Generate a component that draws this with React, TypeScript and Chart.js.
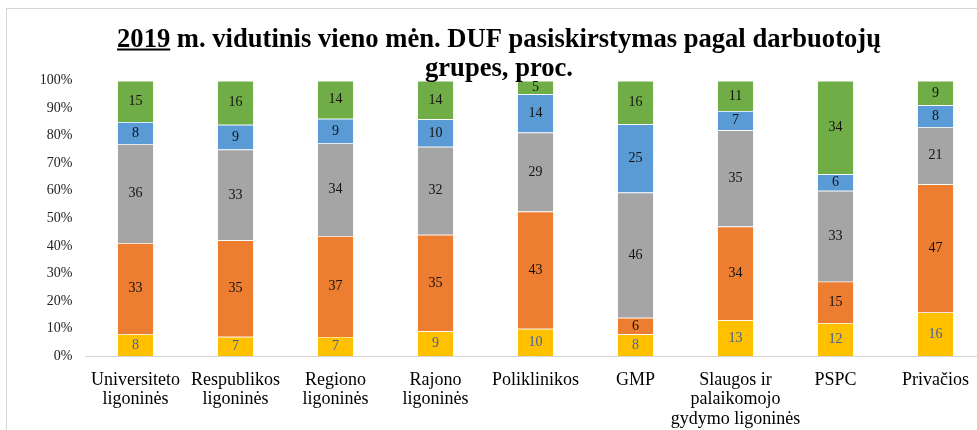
import React, { useEffect, useRef } from 'react';
import { Chart, registerables } from 'chart.js';

Chart.register(...registerables);

const categories: (string | string[])[] = [
  ['Universiteto', 'ligoninės'],
  ['Respublikos', 'ligoninės'],
  ['Regiono', 'ligoninės'],
  ['Rajono', 'ligoninės'],
  'Poliklinikos',
  'GMP',
  ['Slaugos ir', 'palaikomojo', 'gydymo ligoninės'],
  'PSPC',
  'Privačios',
];

const yellowValues = [8, 7, 7, 9, 10, 8, 13, 12, 16];
const orangeValues = [33, 35, 37, 35, 43, 6, 34, 15, 47];
const grayValues = [36, 33, 34, 32, 29, 46, 35, 33, 21];
const blueValues = [8, 9, 9, 10, 14, 25, 7, 6, 8];
const greenValues = [15, 16, 14, 14, 5, 16, 11, 34, 9];

const seriesNames = ['Grupė 1', 'Grupė 2', 'Grupė 3', 'Grupė 4', 'Grupė 5'];

const titleYear = '2019';
const titleRest = ' m. vidutinis vieno mėn. DUF pasiskirstymas pagal darbuotojų';
const titleLine2 = 'grupes, proc.';

const yTickMin = 0;
const yTickMax = 100;
const yTickStep = 10;

const SERIF = '"Liberation Serif", "Times New Roman", serif';

export default function App() {
  const ref = useRef<HTMLCanvasElement>(null);

  useEffect(() => {
    if (!ref.current) return;
    const raw = [yellowValues, orangeValues, grayValues, blueValues, greenValues];
    const colors = ['#FFC000', '#ED7D31', '#A5A5A5', '#5B9BD5', '#70AD47'];
    const labelColors = ['#44609a', '#111111', '#111111', '#111111', '#111111'];
    const totals = categories.map((_, i) => raw.reduce((s, arr) => s + arr[i], 0));

    const datasets = raw.map((vals, k) => ({
      label: seriesNames[k],
      data: vals.map((v, i) => (v / totals[i]) * 100),
      backgroundColor: colors[k],
      borderColor: '#ffffff',
      borderWidth: { top: 0.7, right: 0, bottom: 0, left: 0 },
      borderSkipped: false as const,
      categoryPercentage: 1,
      barPercentage: 0.355,
    }));

    const labelPlugin = {
      id: 'segLabels',
      afterDatasetsDraw(chart: any) {
        const ctx = chart.ctx;
        ctx.save();
        ctx.font = `14px ${SERIF}`;
        ctx.textAlign = 'center';
        ctx.textBaseline = 'middle';
        raw.forEach((vals, di) => {
          const meta = chart.getDatasetMeta(di);
          ctx.fillStyle = labelColors[di];
          meta.data.forEach((bar: any, i: number) => {
            const p = bar.getCenterPoint();
            ctx.fillText(String(vals[i]), p.x, p.y);
          });
        });
        ctx.restore();
      },
    };

    const titlePlugin = {
      id: 'titleDraw',
      afterDraw(chart: any) {
        const ctx = chart.ctx;
        ctx.save();
        ctx.font = `bold 26.6px ${SERIF}`;
        ctx.fillStyle = '#000000';
        ctx.textBaseline = 'alphabetic';
        const cx = 499;
        const line1 = titleYear + titleRest;
        const w = ctx.measureText(line1).width;
        const x0 = cx - w / 2;
        ctx.textAlign = 'left';
        ctx.fillText(line1, x0, 46.5);
        const uw = ctx.measureText(titleYear).width;
        ctx.fillRect(x0, 48.5, uw, 2);
        ctx.textAlign = 'center';
        ctx.fillText(titleLine2, cx, 76);
        ctx.restore();
      },
    };

    const chart = new Chart(ref.current, {
      type: 'bar',
      data: { labels: categories as any, datasets: datasets as any },
      options: {
        animation: false,
        responsive: true,
        maintainAspectRatio: false,
        layout: { padding: { top: 80.7, right: 14.5, left: 0, bottom: 0 } },
        plugins: {
          legend: { display: false },
          tooltip: { enabled: false },
          title: { display: false },
        },
        scales: {
          x: {
            stacked: true,
            grid: { display: false, drawTicks: false },
            border: { display: true, color: '#d9d9d9', width: 1 },
            ticks: {
              autoSkip: false,
              maxRotation: 0,
              minRotation: 0,
              padding: 14,
              color: '#000000',
              font: { family: SERIF, size: 18, lineHeight: 1.1 },
            },
            afterFit(scale: any) {
              scale.height = 74;
            },
          },
          y: {
            stacked: true,
            min: yTickMin,
            max: yTickMax,
            grid: { display: false, drawTicks: false },
            border: { display: false },
            ticks: {
              stepSize: yTickStep,
              padding: 13,
              color: '#222222',
              font: { family: SERIF, size: 14 },
              callback: (v: any) => `${v}%`,
            },
            afterFit(scale: any) {
              scale.width = 85.5;
            },
          },
        },
      },
      plugins: [labelPlugin, titlePlugin],
    });

    return () => chart.destroy();
  }, []);

  return (
    <div
      style={{
        position: 'fixed',
        left: 0,
        top: 0,
        width: 977,
        height: 430,
        overflow: 'hidden',
        background: '#ffffff',
      }}
    >
      <div
        style={{
          position: 'absolute',
          left: 6,
          top: 8,
          width: 1100,
          height: 600,
          border: '1px solid #d6d6d6',
        }}
      />
      <div style={{ position: 'absolute', left: 0, top: 0, width: 1000, height: 430 }}>
        <canvas ref={ref} />
      </div>
    </div>
  );
}
